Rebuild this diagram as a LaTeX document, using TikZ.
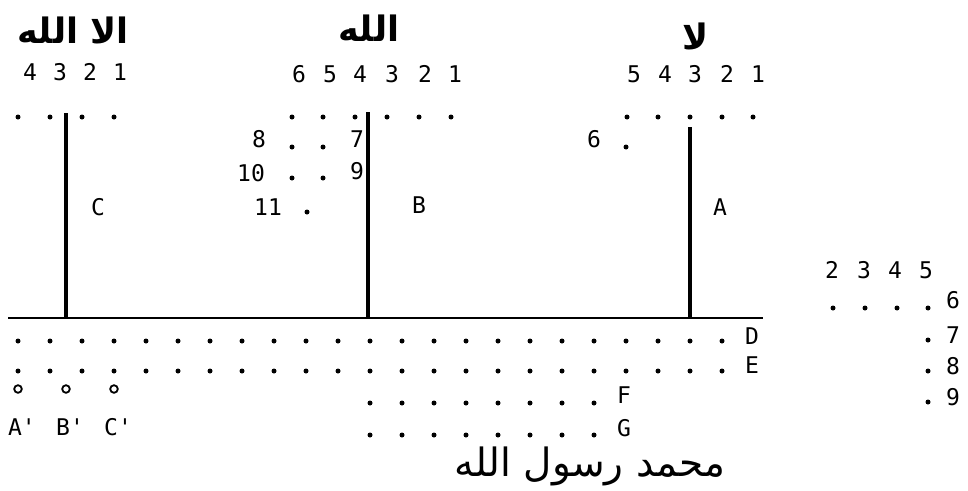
\documentclass[tikz,border=0pt]{standalone}
\usepackage{fontspec}
\setmonofont{DejaVu Sans Mono}
\newfontfamily\arabicfont[Script=Arabic]{DejaVu Sans}
\TeXXeTstate=1
\begin{document}
\begin{tikzpicture}[x=1pt,y=-1pt,
  lbl/.style={font=\ttfamily\fontsize{23}{26}\selectfont, inner sep=0pt, anchor=center},
  arab/.style={font=\arabicfont\bfseries\fontsize{35}{40}\selectfont, inner sep=0pt},
  pt/.style={fill=black},
  ring/.style={draw=black, line width=1.8pt},
  stem/.style={line width=3.6pt},
  base/.style={line width=2.4pt}]
\useasboundingbox (0,0) rectangle (968,490);
% Arabic headings
\node[arab] (tC) at (73,30) {\beginR الا الله\endR};
\node[arab] (tB) at (369,28) {\beginR الله\endR};
\node[arab] (tA) at (696,36) {\beginR لا\endR};
\node[font=\arabicfont\fontsize{39}{44}\selectfont, inner sep=0pt] (bottom) at (590,466) {\beginR محمد رسول الله\endR};
% top numbers
\foreach \x/\t [count=\i] in {30/4,60/3,90/2,120/1} \node[lbl] (nc\i) at (\x,72) {\t};
\foreach \x/\t [count=\i] in {299/6,330/5,360/4,392/3,425/2,455/1} \node[lbl] (nb\i) at (\x,74) {\t};
\foreach \x/\t [count=\i] in {634/5,665/4,695/3,727/2,758/1} \node[lbl] (na\i) at (\x,74) {\t};
% top dots
\foreach \x in {18,50,82,114} \fill[pt] (\x,117) circle (2.5pt);
\foreach \x in {292,323,355,387,419,451} \fill[pt] (\x,117) circle (2.5pt);
\foreach \x in {627,658,690,722,753} \fill[pt] (\x,117) circle (2.5pt);
\foreach \p in {(292,147),(323,147),(292,178),(323,178),(307,212),(626,147)} \fill[pt] \p circle (2.5pt);
% middle labels
\node[lbl] (n8) at (259,139) {8};
\node[lbl] (n7) at (357,139) {7};
\node[lbl] (n10) at (251,173) {10};
\node[lbl] (n9) at (357,171) {9};
\node[lbl] (n11) at (268,207) {11};
\node[lbl] (n6) at (594,139) {6};
\node[lbl] (lC) at (98,207) {C};
\node[lbl] (lB) at (419,205) {B};
\node[lbl] (lA) at (720,207) {A};
% lines
\coordinate (Ctop) at (66,113); \coordinate (Cbot) at (66,318);
\coordinate (Btop) at (368,112); \coordinate (Bbot) at (368,318);
\coordinate (Atop) at (690,127); \coordinate (Abot) at (690,318);
\coordinate (Hl) at (8,318); \coordinate (Hr) at (763,318);
\draw[base] (Hl) -- (Hr);
\draw[stem] (Ctop) -- (Cbot);
\draw[stem] (Btop) -- (Bbot);
\draw[stem] (Atop) -- (Abot);
% D E rows
\foreach \i in {0,...,22} {\fill[pt] (18+32*\i,341) circle (2.5pt); \fill[pt] (18+32*\i,371) circle (2.5pt);}
\foreach \i in {0,...,7} {\fill[pt] (370+32*\i,403) circle (2.5pt); \fill[pt] (370+32*\i,435) circle (2.5pt);}
\node[lbl] (lD) at (752,336) {D};
\node[lbl] (lE) at (752,365) {E};
\node[lbl] (lF) at (624,395) {F};
\node[lbl] (lG) at (624,428) {G};
% circles
\foreach \x in {18,66,114} \draw[ring] (\x,389) circle (3.8pt);
\node[lbl] (lAp) at (22,427) {A'};
\node[lbl] (lBp) at (70,427) {B'};
\node[lbl] (lCp) at (118,427) {C'};
% right grid
\foreach \x/\t in {832/2,864/3,895/4,926/5} \node[lbl] (g\t) at (\x,270) {\t};
\foreach \x in {833,865,897,928} \fill[pt] (\x,308) circle (2.5pt);
\foreach \y in {340,371,402} \fill[pt] (928,\y) circle (2.5pt);
\node[lbl] (g6) at (953,300) {6};
\node[lbl] (g7) at (953,335) {7};
\node[lbl] (g8) at (953,366) {8};
\node[lbl] (g9) at (953,397) {9};
\end{tikzpicture}
\end{document}
